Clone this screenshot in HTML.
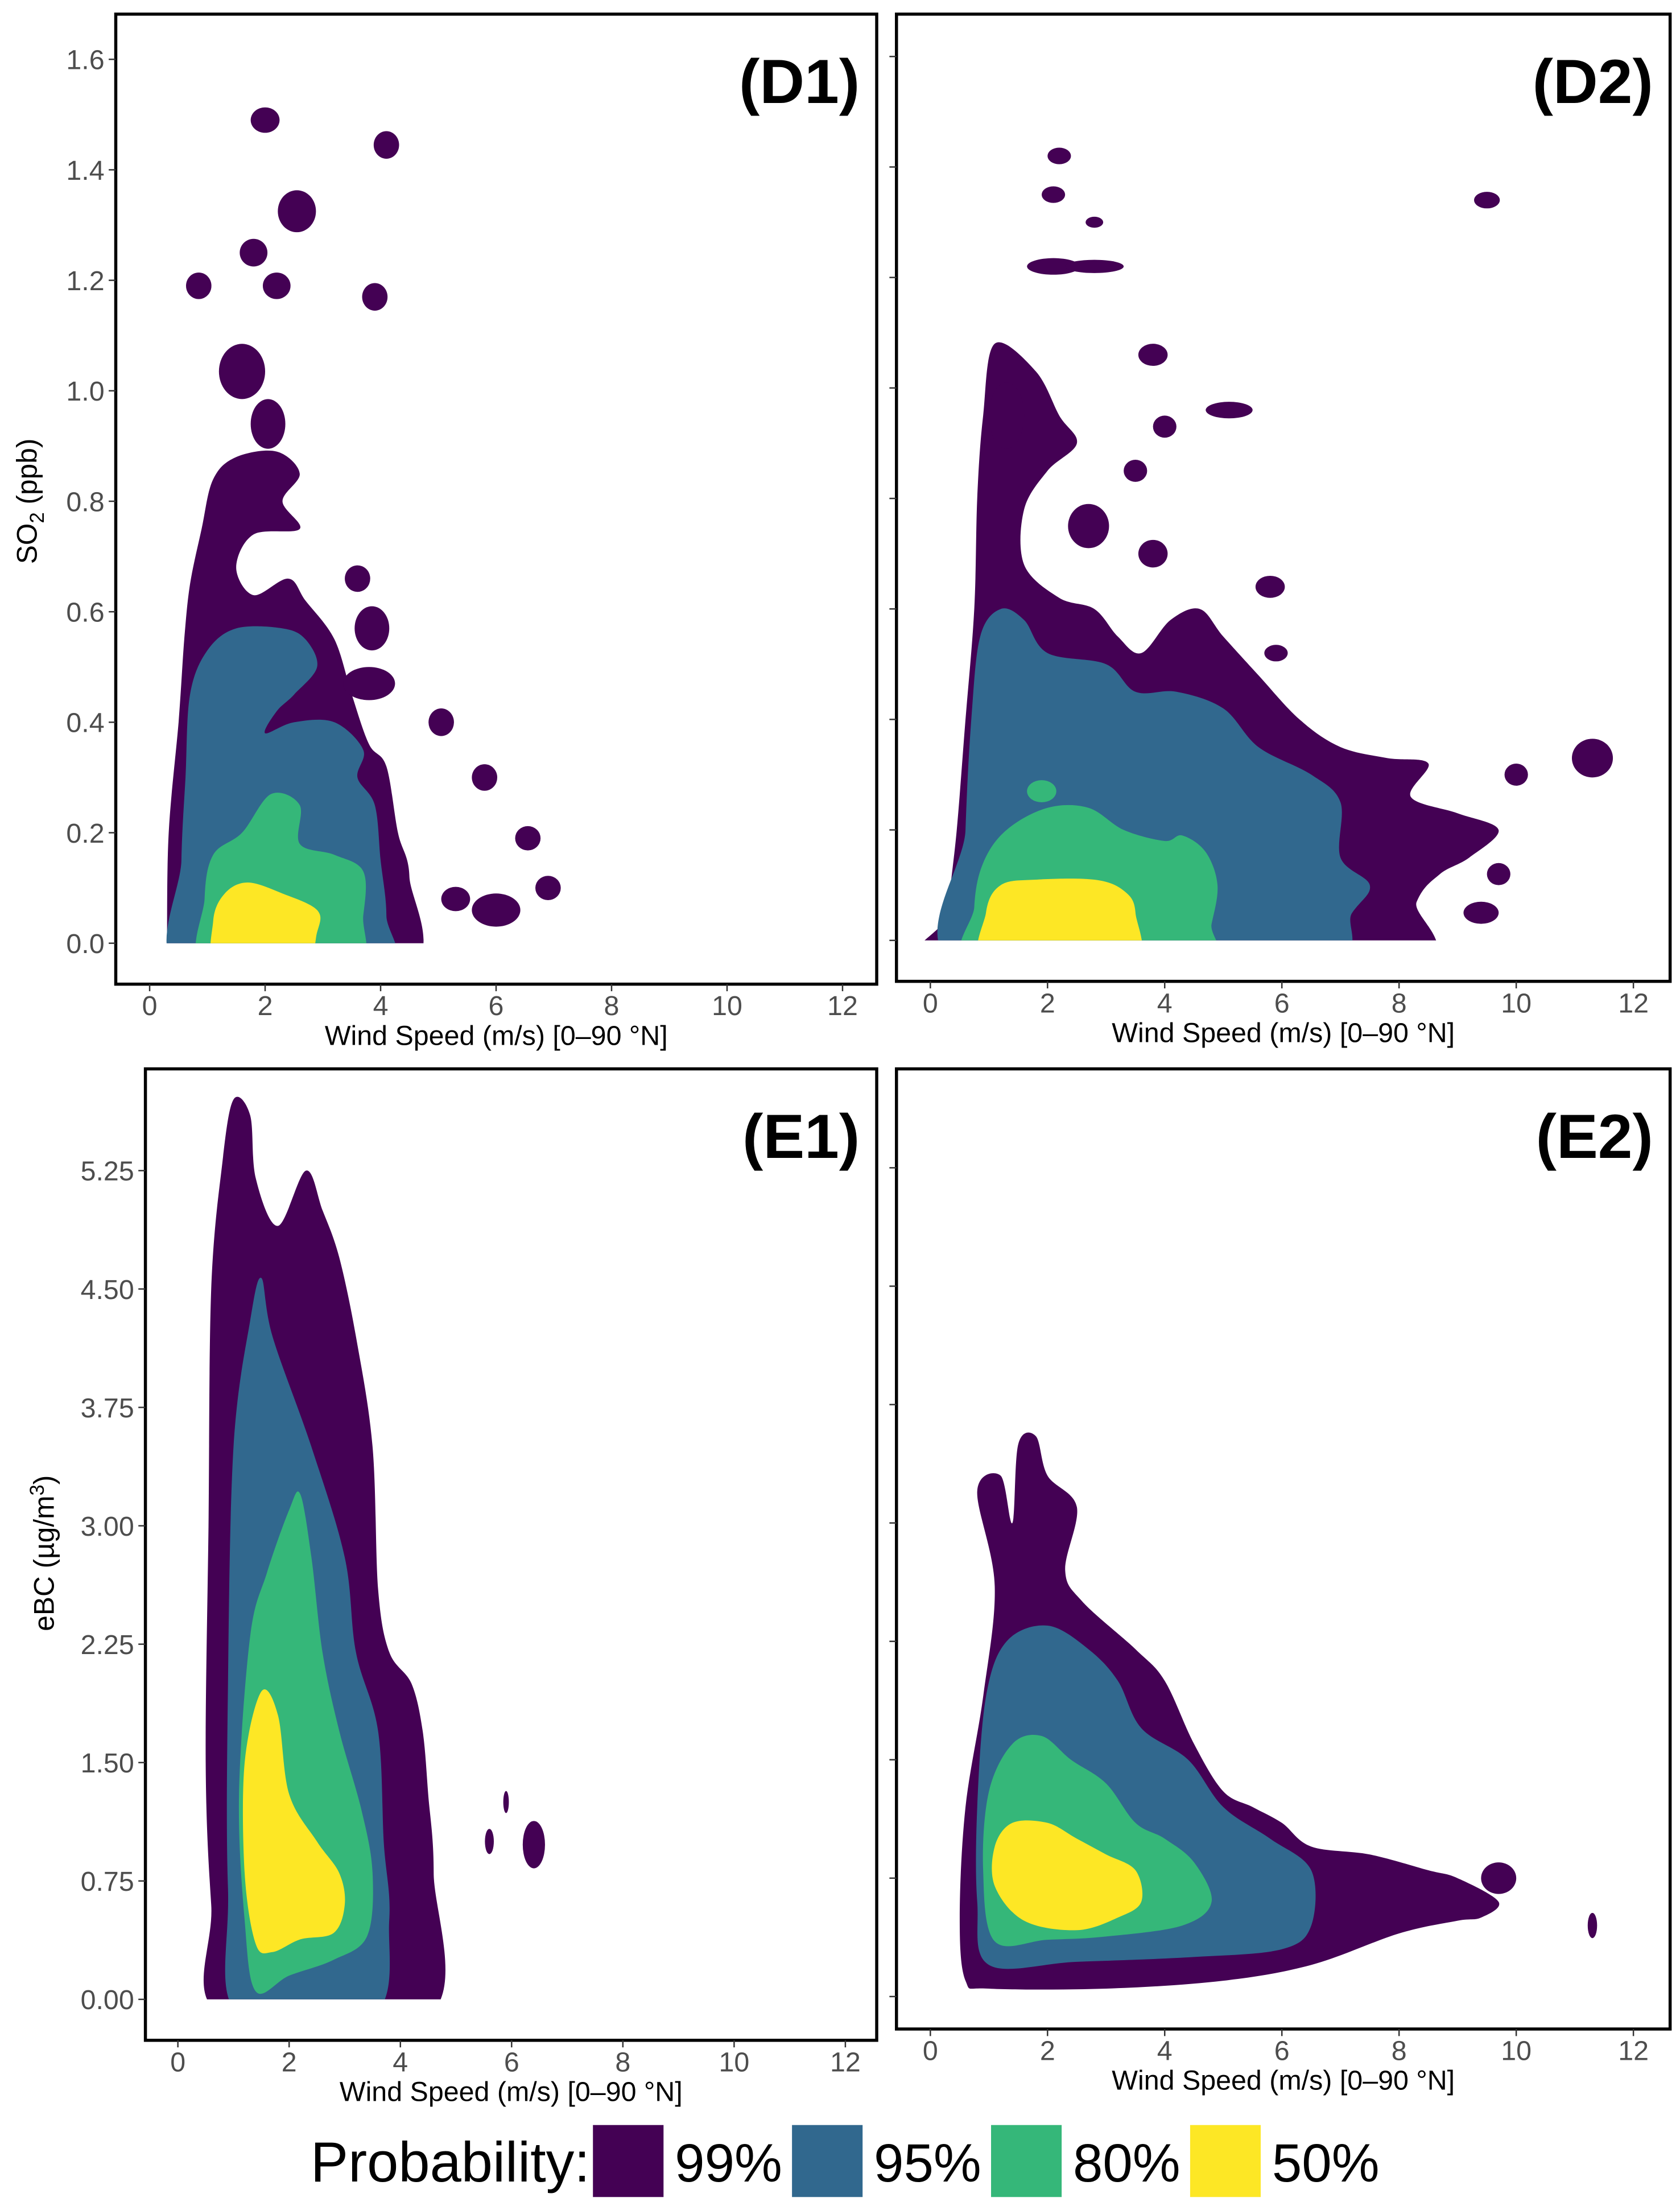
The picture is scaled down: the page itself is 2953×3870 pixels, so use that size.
<!DOCTYPE html>
<html><head><meta charset="utf-8"><style>
html,body{margin:0;padding:0;background:#fff}
svg{display:block}
text{font-family:"Liberation Sans",sans-serif}
</style></head><body>
<svg id="fig" width="2953" height="3870" viewBox="0 0 1190 1559.5" xmlns="http://www.w3.org/2000/svg"></svg>
<script>
// ---------- data ----------
const xTicks=[0,2,4,6,8,10,12];
const so2Ticks=[0.0,0.2,0.4,0.6,0.8,1.0,1.2,1.4,1.6];
const so2TickLabels=["0.0","0.2","0.4","0.6","0.8","1.0","1.2","1.4","1.6"];
const ebcTicks=[0,0.75,1.5,2.25,3.0,3.75,4.5,5.25];
const ebcTickLabels=["0.00","0.75","1.50","2.25","3.00","3.75","4.50","5.25"];
const levels=["99%","95%","80%","50%"];
const levelColors=["#440154","#31688e","#35b779","#fde725"];

const d1_99=[[0.3,0],[0.33,0.2],[0.5,0.4],[0.6,0.55],[0.7,0.65],[0.9,0.75],[1.1,0.84],[1.5,0.88],[2.2,0.89],[2.6,0.85],[2.3,0.8],[2.6,0.75],[1.8,0.74],[1.5,0.68],[1.8,0.63],[2.4,0.66],[2.7,0.62],[3.2,0.55],[3.5,0.45],[3.8,0.36],[4.1,0.32],[4.3,0.2],[4.5,0.12],[4.4,-0.05],[0.3,-0.05]];
const d1_95=[[0.55,-0.05],[0.55,0.15],[0.62,0.3],[0.7,0.45],[1.0,0.53],[1.5,0.57],[2.3,0.57],[2.7,0.55],[2.9,0.5],[2.5,0.45],[2.2,0.42],[2.0,0.38],[2.5,0.4],[3.2,0.4],[3.7,0.35],[3.6,0.3],[3.9,0.25],[4.0,0.15],[4.1,0.05],[4.0,-0.05]];
const d1_80=[[1.0,-0.05],[0.95,0.08],[1.1,0.16],[1.6,0.2],[2.1,0.27],[2.6,0.25],[2.6,0.18],[3.2,0.16],[3.7,0.13],[3.7,0.05],[3.5,-0.05]];
const d1_50=[[1.2,-0.05],[1.1,0.04],[1.3,0.09],[1.7,0.11],[2.3,0.09],[2.9,0.06],[2.9,0.02],[2.6,-0.05]];
const d1_blobs=[[2.0,1.49,0.25,0.023],[4.1,1.445,0.22,0.025],[2.55,1.325,0.33,0.038],[1.8,1.25,0.24,0.025],[0.85,1.19,0.22,0.024],[2.2,1.19,0.24,0.024],[3.9,1.17,0.22,0.025],[1.6,1.035,0.4,0.05],[2.05,0.94,0.3,0.045],[3.6,0.66,0.22,0.024],[3.85,0.57,0.3,0.04],[3.8,0.47,0.45,0.03],[5.05,0.40,0.22,0.025],[5.8,0.3,0.22,0.024],[6.55,0.19,0.22,0.022],[5.3,0.08,0.25,0.022],[6.0,0.06,0.42,0.03],[6.9,0.1,0.22,0.022]];

const d2_99=[[0.3,-0.05],[0.3,0.05],[0.45,0.2],[0.6,0.4],[0.75,0.6],[0.8,0.8],[0.9,0.95],[1.1,1.08],[1.8,1.03],[2.2,0.95],[2.5,0.9],[2.0,0.85],[1.6,0.78],[1.6,0.68],[2.2,0.62],[2.8,0.6],[3.2,0.55],[3.6,0.52],[4.1,0.58],[4.6,0.6],[5.0,0.55],[5.6,0.48],[6.3,0.40],[7.0,0.35],[7.8,0.33],[8.5,0.32],[8.2,0.26],[9.0,0.23],[9.7,0.2],[9.2,0.15],[8.7,0.12],[8.3,0.07],[8.0,-0.05]];
const d2_95=[[0.55,-0.05],[0.6,0.2],[0.7,0.4],[0.85,0.55],[1.2,0.6],[1.6,0.58],[2.0,0.52],[3.0,0.5],[3.5,0.45],[4.2,0.45],[5.0,0.42],[5.6,0.35],[6.5,0.3],[7.0,0.25],[7.0,0.15],[7.5,0.1],[7.2,0.05],[6.5,-0.05]];
const d2_80=[[0.8,-0.05],[0.75,0.06],[0.9,0.14],[1.3,0.2],[2.0,0.24],[2.7,0.24],[3.3,0.2],[4.0,0.18],[4.3,0.19],[4.7,0.16],[4.9,0.1],[4.8,0.03],[4.6,-0.05]];
const d2_50=[[1.0,-0.05],[0.95,0.05],[1.2,0.1],[1.8,0.11],[2.8,0.11],[3.3,0.09],[3.5,0.05],[3.4,-0.05]];
const d2_blobs=[[2.2,1.42,0.2,0.015],[2.1,1.35,0.2,0.015],[2.1,1.22,0.45,0.015],[2.8,1.22,0.5,0.012],[3.8,1.06,0.25,0.02],[5.1,0.96,0.4,0.015],[4.0,0.93,0.2,0.02],[3.5,0.85,0.2,0.02],[3.8,0.7,0.25,0.025],[5.8,0.64,0.25,0.02],[5.9,0.52,0.2,0.015],[9.5,1.34,0.22,0.015],[11.3,0.33,0.35,0.035],[10.0,0.3,0.2,0.02],[9.7,0.12,0.2,0.02],[9.4,0.05,0.3,0.02],[2.8,1.3,0.15,0.01],[1.3,0.95,0.3,0.06],[2.7,0.75,0.35,0.04]];
const d2_blobs95=[[1.9,0.27,0.25,0.02]];

const e1_99=[[0.8,-0.1],[0.6,0.6],[0.5,1.5],[0.55,3.0],[0.6,4.5],[0.8,5.3],[1.0,5.7],[1.3,5.6],[1.4,5.2],[1.8,4.9],[2.3,5.25],[2.6,5.0],[2.9,4.7],[3.2,4.2],[3.5,3.5],[3.6,2.6],[3.8,2.2],[4.2,2.0],[4.4,1.7],[4.5,1.3],[4.6,0.8],[4.5,-0.1]];
const e1_95=[[1.1,-0.1],[0.9,0.7],[0.9,2.0],[1.0,3.5],[1.3,4.3],[1.5,4.57],[1.7,4.2],[2.4,3.5],[3.0,2.8],[3.2,2.2],[3.6,1.7],[3.7,1.0],[3.8,0.5],[3.5,-0.1]];
const e1_80=[[1.4,0.05],[1.2,0.5],[1.1,1.3],[1.3,2.3],[1.6,2.7],[2.0,3.1],[2.2,3.2],[2.4,2.8],[2.6,2.2],[2.9,1.7],[3.3,1.2],[3.5,0.8],[3.4,0.4],[2.8,0.25],[2.0,0.15]];
const e1_50=[[1.4,0.35],[1.2,0.8],[1.2,1.5],[1.5,1.95],[1.8,1.8],[2.0,1.3],[2.5,1.0],[2.9,0.8],[3.0,0.6],[2.8,0.42],[2.2,0.38],[1.7,0.3]];
const e1_blobs=[[6.4,0.98,0.2,0.15],[5.6,1.0,0.08,0.08],[5.9,1.25,0.05,0.07]];

const e2_99=[[0.6,0.1],[0.5,0.5],[0.6,1.2],[0.9,1.9],[1.1,2.6],[0.8,3.2],[1.2,3.3],[1.4,3.0],[1.5,3.5],[1.8,3.55],[2.0,3.3],[2.5,3.1],[2.3,2.7],[2.6,2.5],[3.5,2.2],[4.0,2.0],[4.5,1.6],[5.0,1.3],[5.5,1.2],[6.0,1.1],[6.5,0.95],[7.5,0.9],[8.5,0.8],[9.0,0.75],[9.7,0.6],[9.4,0.5],[9.0,0.48],[8.0,0.4],[6.5,0.2],[5.0,0.1],[3.0,0.05],[1.0,0.05]];
const e2_95=[[1.0,0.2],[0.8,0.6],[0.8,1.2],[0.95,1.9],[1.3,2.25],[2.0,2.35],[2.7,2.2],[3.2,2.0],[3.6,1.7],[4.4,1.5],[5.0,1.2],[5.8,1.0],[6.5,0.8],[6.5,0.45],[6.0,0.3],[4.5,0.25],[2.5,0.22]];
const e2_80=[[1.1,0.35],[0.9,0.8],[1.0,1.3],[1.4,1.6],[1.9,1.65],[2.4,1.5],[3.0,1.35],[3.5,1.1],[4.0,1.0],[4.5,0.85],[4.8,0.6],[4.3,0.45],[3.0,0.38],[2.0,0.36]];
const e2_50=[[1.1,0.7],[1.1,0.95],[1.4,1.1],[2.0,1.1],[2.5,1.0],[3.0,0.9],[3.5,0.8],[3.6,0.6],[3.2,0.5],[2.5,0.42],[1.6,0.48]];
const e2_blobs=[[9.7,0.75,0.3,0.1],[11.3,0.45,0.08,0.08]];

// ---------- drawing ----------
const NS="http://www.w3.org/2000/svg";
const svg=document.getElementById('fig');
function mk(tag,attrs,parent){const e=document.createElementNS(NS,tag);for(const k in attrs)e.setAttribute(k,attrs[k]);(parent||svg).appendChild(e);return e;}
function smooth(pts){
  const n=pts.length;let d="M"+pts[0][0].toFixed(1)+","+pts[0][1].toFixed(1);
  for(let i=0;i<n;i++){const p0=pts[(i-1+n)%n],p1=pts[i],p2=pts[(i+1)%n],p3=pts[(i+2)%n];
    const c1=[p1[0]+(p2[0]-p0[0])/6,p1[1]+(p2[1]-p0[1])/6],c2=[p2[0]-(p3[0]-p1[0])/6,p2[1]-(p3[1]-p1[1])/6];
    d+="C"+c1[0].toFixed(1)+","+c1[1].toFixed(1)+" "+c2[0].toFixed(1)+","+c2[1].toFixed(1)+" "+p2[0].toFixed(1)+","+p2[1].toFixed(1);}
  return d+"Z";
}
function panel(cfg){
  const g=mk('g',{});
  
  
  const X=v=>cfg.x0+v*cfg.xs, Y=v=>cfg.y0-v*cfg.ys;
  const clipId=cfg.name+'-clip';
  const cb=cfg.clipZero?Y(0):cfg.B;
  const cp=mk('clipPath',{id:clipId},g);mk('rect',{x:cfg.L,y:cfg.T,width:cfg.R-cfg.L,height:cb-cfg.T},cp);
  const cg=mk('g',{'clip-path':'url(#'+clipId+')'},g);
  cfg.polys.forEach((p,i)=>{
    const path=mk('path',{d:smooth(p.map(q=>[X(q[0]),Y(q[1])])),fill:levelColors[i]},cg);
    
    
  });
  cfg.blobs.forEach(b=>{
    const el=mk('ellipse',{cx:X(b[0]),cy:Y(b[1]),rx:b[2]*cfg.xs,ry:b[3]*cfg.ys,fill:levelColors[0]},cg);
    
    
  });
  (cfg.blobs95||[]).forEach(b=>{
    const el=mk('ellipse',{cx:X(b[0]),cy:Y(b[1]),rx:b[2]*cfg.xs,ry:b[3]*cfg.ys,fill:levelColors[2]},cg);
    
    
  });
  const fr=mk('rect',{x:cfg.L,y:cfg.T,width:cfg.R-cfg.L,height:cfg.B-cfg.T,fill:'none',stroke:'#000','stroke-width':2.2},g);
  
  
  xTicks.forEach(t=>{
    mk('line',{x1:X(t),x2:X(t),y1:cfg.B,y2:cfg.B+5,stroke:'#333','stroke-width':1},g);
    const tx=mk('text',{x:X(t),y:cfg.B+22,'text-anchor':'middle','font-size':19.5,fill:'#4d4d4d'},g);tx.textContent=t;
    
    
  });
  cfg.yt.forEach((t,i)=>{
    mk('line',{x1:cfg.L-5,x2:cfg.L,y1:Y(t),y2:Y(t),stroke:'#333','stroke-width':1},g);
    if(cfg.ylab){const ty=mk('text',{x:cfg.L-8,y:Y(t)+7,'text-anchor':'end','font-size':19.5,fill:'#4d4d4d'},g);ty.textContent=cfg.ytl[i];
      
      }
  });
  const xt=mk('text',{x:(cfg.L+cfg.R)/2,y:cfg.B+43,'text-anchor':'middle','font-size':19.5,fill:'#000'},g);
  xt.textContent='Wind Speed (m/s) [0\u201390 \u00b0N]';
  
  
  const pl=mk('text',{x:cfg.R-12,y:cfg.T+63,'text-anchor':'end','font-size':44,'font-weight':'bold',fill:'#000'},g);
  pl.textContent=cfg.label;
  
  
}
panel({name:'panel-d1',label:'(D1)',L:82,T:10,R:621,B:697,x0:106,xs:40.9,y0:668,ys:391.25,yt:so2Ticks,ytl:so2TickLabels,ylab:true,clipZero:true,polys:[d1_99,d1_95,d1_80,d1_50],blobs:d1_blobs});
panel({name:'panel-d2',label:'(D2)',L:635,T:10,R:1183,B:695,x0:659,xs:41.5,y0:666,ys:391.25,yt:so2Ticks,ytl:so2TickLabels,ylab:false,clipZero:true,polys:[d2_99,d2_95,d2_80,d2_50],blobs:d2_blobs,blobs95:d2_blobs95});
panel({name:'panel-e1',label:'(E1)',L:103,T:757,R:621,B:1445,x0:126,xs:39.4,y0:1416,ys:111.8,yt:ebcTicks,ytl:ebcTickLabels,ylab:true,clipZero:true,polys:[e1_99,e1_95,e1_80,e1_50],blobs:e1_blobs});
panel({name:'panel-e2',label:'(E2)',L:635,T:757,R:1183,B:1437,x0:659,xs:41.5,y0:1414,ys:111.8,yt:ebcTicks,ytl:ebcTickLabels,ylab:false,clipZero:false,polys:[e2_99,e2_95,e2_80,e2_50],blobs:e2_blobs});

// y-axis titles
const yt1=mk('text',{transform:'translate(26,355) rotate(-90)','text-anchor':'middle','font-size':20,fill:'#000'});
yt1.innerHTML='SO<tspan font-size="14" dy="5">2</tspan><tspan dy="-5"> (ppb)</tspan>';


const yt2=mk('text',{transform:'translate(38,1100) rotate(-90)','text-anchor':'middle','font-size':20,fill:'#000'});
yt2.innerHTML='eBC (\u00b5g/m<tspan font-size="14" dy="-7">3</tspan><tspan dy="7">)</tspan>';



// legend
const lg=mk('g',{});


const lt=mk('text',{x:220,y:1545,'font-size':40,fill:'#000'},lg);lt.textContent='Probability:';


levels.forEach((l,i)=>{
  const bx=420+i*141;
  const sw=mk('rect',{x:bx,y:1505,width:50,height:51,fill:levelColors[i]},lg);
  
  
  const tx=mk('text',{x:bx+58,y:1545,'font-size':38,fill:'#000'},lg);tx.textContent=l;
  
  
});
</script>
</body></html>
